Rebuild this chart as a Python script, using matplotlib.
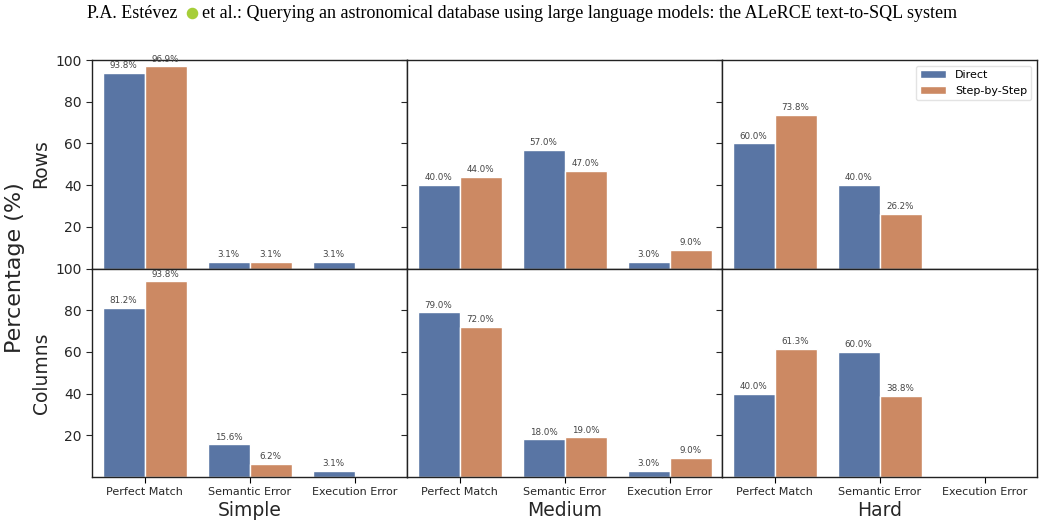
import numpy as np
import matplotlib
matplotlib.use("Agg")
import matplotlib.pyplot as plt
from matplotlib.lines import Line2D

# data
categories = ["Perfect Match", "Semantic Error", "Execution Error"]
levels = ["Simple", "Medium", "Hard"]
row_names = ["Rows", "Columns"]

rows_direct = [[93.8, 3.1, 3.1], [40.0, 57.0, 3.0], [60.0, 40.0, 0.0]]
rows_step = [[96.9, 3.1, 0.0], [44.0, 47.0, 9.0], [73.8, 26.2, 0.0]]
cols_direct = [[81.2, 15.6, 3.1], [79.0, 18.0, 3.0], [40.0, 60.0, 0.0]]
cols_step = [[93.8, 6.2, 0.0], [72.0, 19.0, 9.0], [61.3, 38.8, 0.0]]

direct_color = '#5975a4'
step_color = '#cc8963'
text_color = '#262626'

fig, axes = plt.subplots(2, 3, figsize=(10.45, 5.28), dpi=100, sharey=False)
fig.subplots_adjust(left=92/1045, right=1037/1045, top=1-60/528, bottom=1-477/528,
                    hspace=0, wspace=0)

bar_width = 0.4
x = np.arange(len(categories))

data = [(rows_direct, rows_step), (cols_direct, cols_step)]

for r in range(2):
    d_all, s_all = data[r]
    for c in range(3):
        ax = axes[r, c]
        d = d_all[c]
        s = s_all[c]
        b1 = ax.bar(x - bar_width/2, d, width=bar_width, color=direct_color,
                    edgecolor='white', linewidth=1, label='Direct')
        b2 = ax.bar(x + bar_width/2, s, width=bar_width, color=step_color,
                    edgecolor='white', linewidth=1, label='Step-by-Step')
        for bars, vals in ((b1, d), (b2, s)):
            for bar, v in zip(bars, vals):
                if v > 0:
                    ax.annotate(f"{v:.1f}%", (bar.get_x() + bar.get_width()/2, v),
                                xytext=(0, 2), textcoords='offset points',
                                ha='center', va='bottom', fontsize=6.3, color='#444444')
        ax.set_xlim(-0.5, 2.5)
        ax.set_ylim(0, 100)
        ax.set_yticks([20, 40, 60, 80, 100])
        ax.tick_params(axis='y', labelsize=10, colors=text_color, length=4)
        if c > 0:
            ax.tick_params(axis='y', labelleft=False)
        if r == 1:
            ax.set_xticks(x)
            ax.set_xticklabels(categories, fontsize=8, color=text_color)
            ax.tick_params(axis='x', length=4)
        else:
            ax.set_xticks([])
        for sp in ax.spines.values():
            sp.set_color('#222222')
            sp.set_linewidth(1.0)

axes[0, 2].legend(loc='upper right', fontsize=8, frameon=True, framealpha=0.8,
                  edgecolor='#dddddd', handlelength=2.3)

# labels
fig.text(15/1045, 1-268/528, "Percentage (%)", rotation=90, ha='center', va='center',
         fontsize=16, color=text_color)
fig.text(41/1045, 1-164/528, "Rows", rotation=90, ha='center', va='center',
         fontsize=13.5, color=text_color)
fig.text(41/1045, 1-373/528, "Columns", rotation=90, ha='center', va='center',
         fontsize=13.5, color=text_color)
for c, name in enumerate(levels):
    pos = axes[1, c].get_position()
    fig.text((pos.x0 + pos.x1)/2, 1-511/528, name, ha='center', va='center',
             fontsize=13.5, color=text_color)

# page header
fig.text(87/1045, 1-18/528, "P.A. Estévez", ha='left', va='baseline',
         fontsize=13, family='Liberation Serif', color='black')
fig.add_artist(Line2D([192/1045], [1-13/528], marker='o', markersize=7.3,
                      color='#A6CE39', transform=fig.transFigure))
fig.text(202/1045, 1-18/528,
         "et al.: Querying an astronomical database using large language models: the ALeRCE text-to-SQL system",
         ha='left', va='baseline', fontsize=13, family='Liberation Serif', color='black')

fig.savefig("out.png", dpi=100)
